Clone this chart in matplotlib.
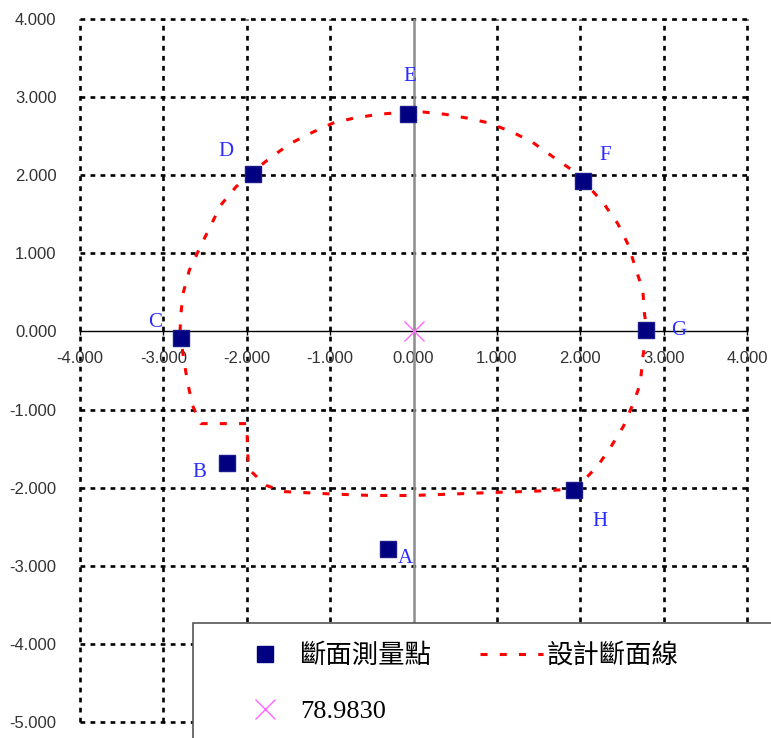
import matplotlib
matplotlib.use("Agg")
import matplotlib.pyplot as plt
from matplotlib.patches import Rectangle
from matplotlib.lines import Line2D
import numpy as np

# surveyed points A..H
pt_names = ["A", "B", "C", "D", "E", "F", "G", "H"]
pt_x = [-0.30, -2.24, -2.79, -1.93, -0.06, 2.03, 2.79, 1.93]
pt_y = [-2.79, -1.69, -0.08, 2.01, 2.78, 1.92, 0.02, -2.03]

# design section line
design_x = [-2.80, -2.79, -2.76, -2.69, -2.55, -2.31, -2.13, -1.93, -1.71, -1.47, -1.21,
            -0.96, -0.72, -0.42, -0.07, 0.11, 0.38, 0.65, 0.90, 1.19, 1.43, 1.68, 1.91,
            2.03, 2.28, 2.45, 2.58, 2.66, 2.75, 2.77, 2.80, 2.75, 2.72, 2.64, 2.52, 2.36,
            2.21, 2.04, 1.90, 1.56, 1.32, 1.00, 0.50, 0.00, -0.50, -1.00, -1.56, -1.77,
            -1.98, -1.99, -2.00, -2.55, -2.65, -2.71, -2.76, -2.80]
design_y = [0.00, 0.23, 0.50, 0.78, 1.10, 1.62, 1.85, 2.04, 2.23, 2.41, 2.55,
            2.67, 2.73, 2.78, 2.81, 2.81, 2.78, 2.73, 2.67, 2.55, 2.42, 2.23, 2.06,
            1.94, 1.64, 1.38, 1.10, 0.82, 0.53, 0.23, 0.00, -0.33, -0.67, -0.91, -1.21, -1.49,
            -1.72, -1.91, -2.02, -2.04, -2.05, -2.06, -2.08, -2.10, -2.10, -2.08, -2.05, -1.97,
            -1.76, -1.50, -1.18, -1.18, -0.95, -0.65, -0.33, 0.00]

center_x, center_y = [0.0], [0.0]
center_label = "78.9830"

# label offsets in pixels
lab_off = {"A": (17, -9), "B": (-27, -9), "C": (-26, 15), "D": (-27, 23), "E": (1, 38),
           "F": (22, 26), "G": (33, -1), "H": (26, -31)}

W, H = 771, 738
fig = plt.figure(figsize=(W / 100, H / 100), dpi=100)
ax = fig.add_axes([80 / W, 1 - 722 / H, 667 / W, 703 / H])
ax.set_xlim(-4, 4)
ax.set_ylim(-5, 4)

xt = np.arange(-4, 5)
yt = np.arange(-5, 5)
ax.set_xticks(xt)
ax.set_yticks(yt)
ax.set_xticklabels([f"{v:.3f}" for v in xt])
ax.set_yticklabels([f"{v:.3f}" for v in yt])

for v in xt:
    if v != 0:
        ax.axvline(v, color="black", lw=1.9, dashes=(1.8, 2.0), zorder=1, clip_on=False)
for v in yt:
    if v != 0:
        ax.axhline(v, color="black", lw=1.9, dashes=(1.8, 2.0), zorder=1, clip_on=False)
ax.axvline(0, color="#8c8c8c", lw=1.8, zorder=2)

for s in ["top", "right", "left"]:
    ax.spines[s].set_visible(False)
ax.spines["bottom"].set_position(("data", 0))
ax.spines["bottom"].set_linewidth(1.0)
ax.spines["bottom"].set_zorder(2)

ax.tick_params(axis="x", direction="inout", length=6, width=1, pad=11,
               labelcolor="#333333", labelsize=12)
ax.tick_params(axis="y", length=0, pad=17, labelcolor="#333333", labelsize=12)
for t in ax.get_xticklabels() + ax.get_yticklabels():
    t.set_family("Liberation Sans")

red_ls = (0, (2.3, 4.0))
ax.plot(design_x, design_y, color="red", lw=2.2, linestyle=red_ls, zorder=3)
ax.plot(pt_x, pt_y, linestyle="none", marker="s", markersize=12, color="#000080",
        markeredgecolor="#1a1a8c", zorder=4)
ax.plot(center_x, center_y, linestyle="none", marker="x", markersize=15,
        markeredgewidth=1.0, color="#ff66ff", zorder=4)

for n, x, y in zip(pt_names, pt_x, pt_y):
    dx, dy = lab_off[n]
    ax.annotate(n, (x, y), xytext=(dx * 0.72, dy * 0.72), textcoords="offset points",
                ha="center", va="center", color="#2b2bff", fontsize=15,
                family="Liberation Serif", zorder=5)

# legend box
fig.patches.append(Rectangle((193 / W, -0.05), 1.0, 0.05 + 1 - 623 / H,
                             transform=fig.transFigure, facecolor="white",
                             edgecolor="#555555", lw=1.2, zorder=5))

leg_font = ["Liberation Serif", "Noto Sans CJK TC"]
handles = [
    Line2D([], [], linestyle="none", marker="s", markersize=12, color="#000080"),
    Line2D([], [], linestyle="none", marker="x", markersize=15, markeredgewidth=1.0,
           color="#ff66ff"),
    Line2D([], [], color="red", lw=2.2, linestyle=red_ls),
]
labels = ["斷面測量點", center_label, "設計斷面線"]
leg = fig.legend(handles, labels, ncol=2, loc="center left",
                 bbox_to_anchor=(233 / W, 1 - 683 / H), frameon=False,
                 borderpad=0, borderaxespad=0, handlelength=2.4, handletextpad=0.15,
                 columnspacing=1.8, labelspacing=1.2,
                 prop={"family": leg_font, "size": 19})
leg.set_zorder(6)

fig.savefig("out.png", dpi=100)
